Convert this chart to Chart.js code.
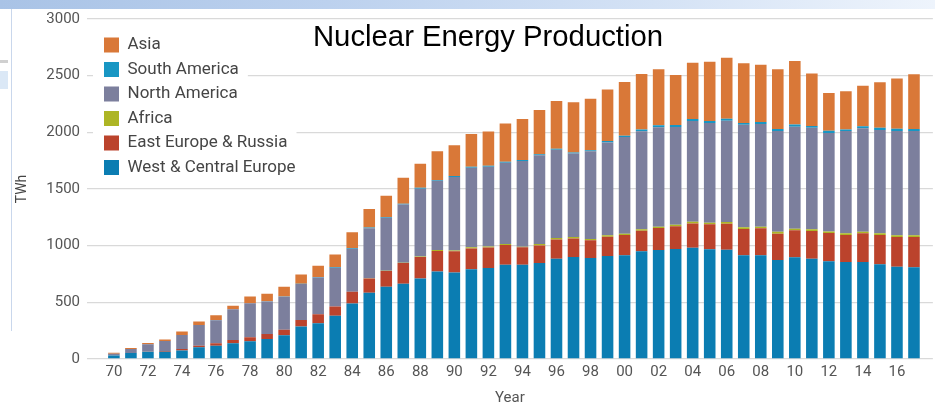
<!DOCTYPE html>
<html>
<head>
<meta charset="utf-8">
<script src="https://cdn.jsdelivr.net/npm/chart.js@4"></script>
<style>
  html, body { margin: 0; padding: 0; background: #fff; }
  #wrap { position: relative; width: 935px; height: 407px; overflow: hidden; }
  #topband { position: absolute; left: 0; top: 0; width: 935px; height: 9px;
    background: linear-gradient(90deg, #a9c3e6 0%, #bcd1ee 35%, #d4e2f5 70%, #eef4fc 100%); }
  #sideline { position: absolute; left: 11px; top: 9px; width: 1px; height: 322px; background: #c9d7ec; }
  #sidebar1 { position: absolute; left: 0; top: 60px; width: 8px; height: 3px; background: #d0d0d0; }
  #sidebar2 { position: absolute; left: 0; top: 71px; width: 8px; height: 18px; background: #dbe8f6; }
  canvas { position: absolute; left: 0; top: 0; }
</style>
</head>
<body>
<div id="wrap">
  <div id="topband"></div>
  <div id="sideline"></div>
  <div id="sidebar1"></div>
  <div id="sidebar2"></div>
  <canvas id="chart" width="935" height="407"></canvas>
</div>
<script>
// Years 1970 - 2017
const years = [];
for (let y = 1970; y <= 2017; y++) years.push(y);

// TWh per region
const westCentralEurope = [
  30, 53, 64, 65, 74, 103, 118, 139, 156, 177,
  209, 286, 316, 381, 490, 585, 638, 664, 711, 773,
  764, 791, 803, 832, 832, 847, 885, 900, 891, 909,
  915, 950, 962, 971, 982, 968, 965, 915, 915, 873,
  897, 885, 862, 856, 856, 835, 815, 809
];
const eastEuropeRussia = [
  0, 1, 2, 5, 14, 15, 21, 29, 36, 44,
  48, 59, 79, 82, 103, 126, 138, 183, 189, 180,
  186, 185, 180, 174, 153, 155, 170, 164, 156, 170,
  179, 182, 193, 200, 214, 221, 229, 232, 238, 233,
  238, 244, 250, 238, 253, 259, 261, 267
];
const africa = [
  0, 0, 0, 0, 0, 0, 0, 0, 0, 0,
  0, 0, 0, 0, 1, 2, 3, 3, 5, 9,
  8, 9, 9, 9, 6, 12, 12, 12, 12, 12,
  12, 12, 13, 14, 14, 14, 15, 15, 15, 17,
  15, 15, 14, 15, 14, 15, 15, 15
];
const northAmerica = [
  17, 34, 64, 89, 123, 181, 204, 270, 299, 286,
  293, 316, 324, 343, 379, 441, 467, 513, 598, 610,
  647, 702, 704, 717, 757, 783, 780, 737, 774, 820,
  852, 865, 876, 862, 890, 879, 894, 905, 905, 889,
  900, 897, 868, 903, 912, 911, 921, 921
];
const southAmerica = [
  0, 0, 0, 0, 1, 2, 2, 2, 2, 3,
  2, 3, 4, 5, 6, 7, 6, 7, 8, 7,
  9, 9, 9, 8, 8, 9, 9, 8, 8, 12,
  12, 17, 18, 18, 18, 18, 17, 15, 18, 17,
  20, 15, 21, 14, 18, 21, 20, 17
];
const asia = [
  9, 9, 12, 12, 30, 29, 41, 29, 59, 65,
  85, 82, 100, 112, 139, 162, 189, 229, 212, 253,
  271, 289, 303, 339, 362, 391, 420, 444, 456, 456,
  474, 489, 494, 441, 497, 523, 539, 527, 506, 527,
  559, 464, 332, 336, 359, 400, 444, 483
];

const yTicks = [0, 500, 1000, 1500, 2000, 2500, 3000];

// Stack order bottom -> top
const series = [
  { label: 'West & Central Europe', data: westCentralEurope, color: '#0b7db2' },
  { label: 'East Europe & Russia', data: eastEuropeRussia, color: '#bb432c' },
  { label: 'Africa', data: africa, color: '#adb525' },
  { label: 'North America', data: northAmerica, color: '#7c7f9d' },
  { label: 'South America', data: southAmerica, color: '#1896c3' },
  { label: 'Asia', data: asia, color: '#d97838' }
];

// Legend sits inside the plot, shift it and give it a white backing
const legendPlace = {
  id: 'legendPlace',
  afterLayout(chart) {
    chart.legend.left += 9.5;
    chart.legend.top += 29;
  },
  afterDatasetsDraw(chart) {
    const ctx = chart.ctx;
    ctx.save();
    ctx.fillStyle = '#fff';
    for (const hb of chart.legend.legendHitBoxes) {
      ctx.fillRect(hb.left - 11, hb.top - 4, hb.width + 20, hb.height + 8);
    }
    ctx.restore();
    chart.legend.draw();
  }
};

// Title drawn over the plot area
const overTitle = {
  id: 'overTitle',
  afterDraw(chart) {
    const ctx = chart.ctx;
    ctx.save();
    ctx.font = '29.3px "Liberation Sans", Arial, sans-serif';
    ctx.fillStyle = '#000';
    ctx.textAlign = 'center';
    ctx.textBaseline = 'middle';
    ctx.fillText('Nuclear Energy Production', 488, 38);
    ctx.restore();
  }
};

const ctx = document.getElementById('chart').getContext('2d');
new Chart(ctx, {
  type: 'bar',
  data: {
    labels: years,
    datasets: series.map(s => ({
      label: s.label,
      data: s.data,
      backgroundColor: s.color,
      borderWidth: 0,
      barPercentage: 0.85,
      categoryPercentage: 0.8
    }))
  },
  options: {
    responsive: false,
    animation: false,
    layout: { padding: { top: 19, left: 0, right: 0, bottom: 0 } },
    font: { family: 'Roboto, sans-serif' },
    plugins: {
      legend: {
        position: 'chartArea',
        align: 'start',
        reverse: true,
        labels: {
          boxWidth: 15,
          boxHeight: 15,
          padding: 7.5,
          color: '#454545',
          font: { family: 'Roboto, sans-serif', size: 17 }
        }
      },
      title: { display: false },
      tooltip: { enabled: false }
    },
    scales: {
      x: {
        type: 'linear',
        stacked: true,
        offset: false,
        min: 1968.42,
        max: 2018.11,
        grid: { display: false, drawTicks: false },
        border: { display: false },
        afterFit: s => { s.height = 48; },
        ticks: {
          stepSize: 2,
          includeBounds: false,
          autoSkip: false,
          maxRotation: 0,
          padding: 4,
          color: '#555',
          font: { family: 'Roboto, sans-serif', size: 15 },
          callback: v => (v > 2016 ? '' : String(v).slice(2))
        },
        title: {
          display: true,
          text: 'Year',
          color: '#555',
          padding: 0,
          font: { family: 'Roboto, sans-serif', size: 15 }
        }
      },
      y: {
        stacked: true,
        min: 0,
        max: 3000,
        afterFit: s => { s.width = 87; },
        afterBuildTicks: s => { s.ticks = yTicks.map(v => ({ value: v })); },
        grid: { color: '#d9d9d9', lineWidth: 1.3, drawTicks: false },
        border: { display: false },
        ticks: {
          padding: 7,
          color: '#555',
          font: { family: 'Roboto, sans-serif', size: 15 },
          callback: v => String(v)
        },
        title: {
          display: true,
          text: 'TWh',
          color: '#444',
          padding: { top: 14, bottom: 0 },
          font: { family: 'Roboto, sans-serif', size: 14 }
        }
      }
    }
  },
  plugins: [legendPlace, overTitle]
});
</script>
</body>
</html>
